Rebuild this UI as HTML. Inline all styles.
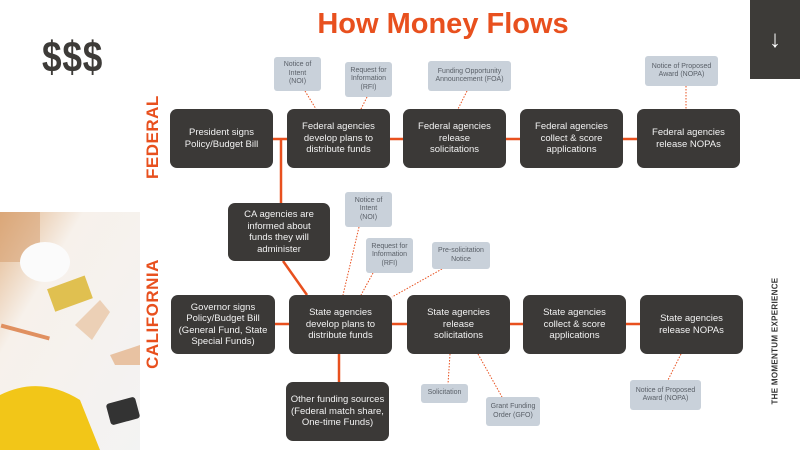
<!DOCTYPE html>
<html><head><meta charset="utf-8"><style>
body{margin:0;width:800px;height:450px;overflow:hidden;background:#fff;font-family:"Liberation Sans",sans-serif;position:relative}
.b{position:absolute;background:#3b3937;border-radius:7px;color:#f2f2f2;font-size:9.5px;line-height:11.5px;display:flex;align-items:center;justify-content:center;text-align:center}
.c{position:absolute;background:#c9d1da;border-radius:3px;color:#5a6068;font-size:7px;line-height:8.5px;display:flex;align-items:center;justify-content:center;text-align:center}
.v{position:absolute;color:#e8501e;font-weight:bold;font-size:17px;transform:rotate(-90deg);transform-origin:center;white-space:nowrap;letter-spacing:0.5px}
</style></head><body>
<svg style="position:absolute;left:0;top:0" width="800" height="450">
<defs><linearGradient id="g" x1="0" y1="0" x2="1" y2="1"><stop offset="0" stop-color="#e2b488"/><stop offset="0.3" stop-color="#f7f1eb"/><stop offset="1" stop-color="#f3f3f3"/></linearGradient></defs>
<rect x="0" y="212" width="140" height="238" fill="url(#g)"/>
<rect x="0" y="212" width="40" height="50" fill="#d49a68" opacity="0.5"/>
<ellipse cx="45" cy="262" rx="25" ry="20" fill="#fbfbfb"/>
<rect x="50" y="282" width="40" height="24" fill="#e0c050" transform="rotate(-20 69 294)"/>
<rect x="0" y="330" width="50" height="4" fill="#e09060" transform="rotate(15 25 333)"/>
<path d="M75 325 L100 300 L110 312 L92 340 Z" fill="#ecd0b6"/>
<path d="M110 355 L140 345 L140 365 L115 365 Z" fill="#e8c2a2"/>
<rect x="108" y="400" width="30" height="22" rx="3" fill="#333" transform="rotate(-15 123 411)"/>
<path d="M0 395 Q40 375 80 400 L100 450 L0 450 Z" fill="#f2c618"/>
<g stroke="#e8501e" stroke-width="2.5" fill="none">
<line x1="273" y1="139" x2="637" y2="139"/>
<line x1="281" y1="139" x2="281" y2="203"/>
<line x1="283" y1="261" x2="307" y2="295"/>
<line x1="275" y1="324" x2="640" y2="324"/>
<line x1="339" y1="354" x2="339" y2="382"/>
</g>
<g stroke="#e8501e" stroke-width="1" stroke-dasharray="1.5,1.5" fill="none">
<line x1="305" y1="91" x2="316" y2="109"/>
<line x1="367" y1="97" x2="361" y2="109"/>
<line x1="467" y1="91" x2="458" y2="109"/>
<line x1="686" y1="86" x2="686" y2="109"/>
<line x1="359" y1="227" x2="343" y2="295"/>
<line x1="373" y1="273" x2="361" y2="295"/>
<line x1="442" y1="269" x2="392" y2="297"/>
<line x1="450" y1="354" x2="448" y2="384"/>
<line x1="478" y1="354" x2="502" y2="397"/>
<line x1="681" y1="354" x2="668" y2="380"/>
</g>
</svg>
<div style="position:absolute;left:300px;top:8px;width:286px;text-align:center;color:#e8501e;font-weight:bold;font-size:29px">How Money Flows</div>
<div style="position:absolute;left:750px;top:0;width:50px;height:79px;background:#3d3b38;color:#fff;font-size:24px;display:flex;align-items:center;justify-content:center">↓</div>
<div style="position:absolute;left:42px;top:33px;color:#3d3b38;font-size:44px;font-weight:bold;transform:scaleX(0.8);transform-origin:left;letter-spacing:1px">$$$</div>
<div class="v" style="left:113px;top:129px;width:80px;text-align:center">FEDERAL</div>
<div class="v" style="left:93px;top:304px;width:120px;text-align:center">CALIFORNIA</div>
<div style="position:absolute;left:715px;top:340px;width:120px;text-align:center;transform:rotate(-90deg);font-size:8px;font-weight:bold;color:#333;letter-spacing:0.3px;white-space:nowrap">THE MOMENTUM EXPERIENCE</div>

<div class="b" style="left:170px;top:109px;width:103px;height:59px">President signs<br>Policy/Budget Bill</div>
<div class="b" style="left:287px;top:109px;width:103px;height:59px">Federal agencies<br>develop plans to<br>distribute funds</div>
<div class="b" style="left:403px;top:109px;width:103px;height:59px">Federal agencies<br>release<br>solicitations</div>
<div class="b" style="left:520px;top:109px;width:103px;height:59px">Federal agencies<br>collect &amp; score<br>applications</div>
<div class="b" style="left:637px;top:109px;width:103px;height:59px">Federal agencies<br>release NOPAs</div>
<div class="b" style="left:228px;top:203px;width:102px;height:58px">CA agencies are<br>informed about<br>funds they will<br>administer</div>
<div class="b" style="left:171px;top:295px;width:104px;height:59px">Governor signs<br>Policy/Budget Bill<br>(General Fund, State<br>Special Funds)</div>
<div class="b" style="left:289px;top:295px;width:103px;height:59px">State agencies<br>develop plans to<br>distribute funds</div>
<div class="b" style="left:407px;top:295px;width:103px;height:59px">State agencies<br>release<br>solicitations</div>
<div class="b" style="left:523px;top:295px;width:103px;height:59px">State agencies<br>collect &amp; score<br>applications</div>
<div class="b" style="left:640px;top:295px;width:103px;height:59px">State agencies<br>release NOPAs</div>
<div class="b" style="left:286px;top:382px;width:103px;height:59px">Other funding sources<br>(Federal match share,<br>One-time Funds)</div>

<div class="c" style="left:274px;top:57px;width:47px;height:34px">Notice of<br>Intent<br>(NOI)</div>
<div class="c" style="left:345px;top:62px;width:47px;height:35px">Request for<br>Information<br>(RFI)</div>
<div class="c" style="left:428px;top:61px;width:83px;height:30px">Funding Opportunity<br>Announcement (FOA)</div>
<div class="c" style="left:645px;top:56px;width:73px;height:30px">Notice of Proposed<br>Award (NOPA)</div>
<div class="c" style="left:345px;top:192px;width:47px;height:35px">Notice of<br>Intent<br>(NOI)</div>
<div class="c" style="left:366px;top:238px;width:47px;height:35px">Request for<br>Information<br>(RFI)</div>
<div class="c" style="left:432px;top:242px;width:58px;height:27px">Pre-solicitation<br>Notice</div>
<div class="c" style="left:421px;top:384px;width:47px;height:19px">Solicitation</div>
<div class="c" style="left:486px;top:397px;width:54px;height:29px">Grant Funding<br>Order (GFO)</div>
<div class="c" style="left:630px;top:380px;width:71px;height:30px">Notice of Proposed<br>Award (NOPA)</div>
</body></html>
